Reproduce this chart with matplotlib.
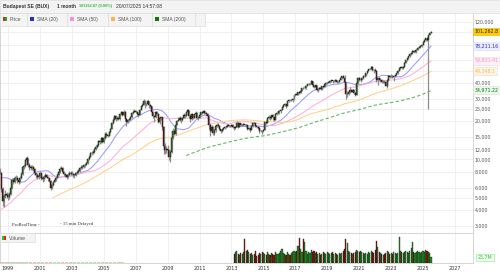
import numpy as np
import pandas as pd
import matplotlib
matplotlib.use("Agg")
import matplotlib.pyplot as plt
from matplotlib.patches import Rectangle

# ---------------- data ----------------
# monthly closes of BUX starting Aug 1993
close = [
    820, 840, 900, 1050, 1200,
    1700, 1900, 1700, 1650, 1700, 1550, 1600, 1680, 1600, 1500, 1450, 1400,
    1350, 1300, 1280, 1350, 1400, 1450, 1500, 1550, 1500, 1480, 1500, 1530,
    1800, 2000, 2100, 2300, 2500, 2400, 2500, 2800, 3000, 3300, 3700, 4200,
    5100, 5400, 5300, 5600, 6100, 6700, 7600, 7700, 8100, 6700, 6900, 7900,
    7800, 8400, 9100, 9300, 8600, 8100, 7900, 5900, 4700, 5200, 5400, 5300,
    5100, 5400, 6000, 6900, 6700, 7200, 7200, 6900, 6700, 7200, 7700, 8800,
    8900, 9900, 10200, 9100, 8800, 8600, 8700, 8400, 7800, 7500, 7300, 7400,
    7800, 7100, 7000, 7300, 7600, 7300, 7100, 6800, 6000, 6300, 6700, 6900,
    7200, 7600, 8000, 8400, 8600, 8000, 7700, 7600, 7300, 7600, 7900, 7900,
    7700, 7500, 7500, 7800, 8000, 8100, 8600, 8700, 8700, 9000, 9100, 9400,
    10000, 10500, 11200, 11300, 11500, 12100, 12500, 12900, 13900, 13700, 14800, 13800,
    14800, 16000, 15500, 15400, 16400, 17500, 19400, 20500, 22000, 20700, 21300, 20800,
    22700, 23500, 22200, 23700, 20700, 19800, 20300, 20900, 21400, 23300, 23800, 24200,
    23500, 22700, 22400, 24600, 26200, 27000, 29000, 27100, 27400, 28800, 26600, 26200,
    23600, 21800, 21400, 23500, 22800, 19600, 21000, 21500, 18100, 12800, 11800, 12200,
    11800, 10400, 11500, 14800, 16800, 16000, 18800, 20200, 20600, 21000, 20300, 21200,
    22300, 22000, 23600, 24400, 21900, 20800, 22600, 21200, 22600, 23400, 21000, 21300,
    22500, 23500, 23000, 23900, 23100, 22700, 21800, 18500, 16700, 17900, 16100, 16900,
    18400, 18600, 18400, 17300, 16800, 17300, 17700, 18000, 18100, 18600, 18300, 18200,
    18600, 18000, 17800, 18000, 19500, 18100, 19300, 18600, 18700, 18900, 18600, 18600,
    17400, 17700, 17000, 18300, 19400, 19300, 18300, 18000, 17800, 16600, 16800, 16600,
    17200, 19600, 19400, 21100, 21500, 21100, 22200, 21400, 20600, 22800, 23200, 23900,
    24000, 24400, 25900, 26800, 27100, 26400, 28600, 29600, 29200, 29600, 29800, 32000,
    32700, 32400, 33700, 33500, 34700, 36500, 36200, 36200, 37900, 39000, 39200, 39400,
    41400, 38300, 37400, 38400, 35200, 35800, 36500, 35600, 37500, 37300, 39500, 40000,
    40200, 40600, 41100, 41800, 41100, 41400, 42300, 40600, 40700, 42000, 43500, 45000,
    44000, 40300, 32800, 33000, 33800, 35000, 34000, 35100, 33100, 32100, 40000, 43800,
    41900, 42200, 43500, 45400, 45700, 47600, 49500, 51100, 51500, 53500, 50800, 50100,
    49500, 42500, 43700, 42300, 42400, 40500, 41000, 40900, 38100, 42000, 45000, 44800,
    44800, 44400, 45000, 45900, 47500, 49700, 52100, 53100, 52600, 53400, 57600, 60500,
    62500, 64500, 68000, 68500, 71500, 70500, 72000, 73000, 75500, 77000, 77500, 79500,
    84500, 86500, 89500, 87500, 95300, 99000, 101263,
]

# monthly highs / lows of the drawn candles, starting Jul 1998
high = [
    8500, 8000, 6100, 5400, 5800, 5600,
    5500, 5600, 6200, 7100, 7200, 7400, 7600, 7400, 7100, 7400, 8000, 8900,
    9300, 10100, 10700, 10300, 9400, 9000, 9000, 8900, 8500, 8000, 7800, 7600,
    8100, 7900, 7300, 7500, 7900, 7700, 7400, 7200, 6900, 6500, 6800, 7100,
    7400, 7800, 8200, 8700, 8900, 8700, 8100, 7900, 7700, 7800, 8100, 8100,
    8100, 7900, 7700, 8000, 8200, 8400, 8800, 9000, 9000, 9300, 9400, 9600,
    10300, 10800, 11500, 11700, 11900, 12400, 12900, 13200, 14200, 14300, 15100, 15000,
    15200, 16500, 16400, 16000, 16700, 17800, 19700, 21000, 22500, 22200, 21800, 21700,
    23200, 24100, 23800, 24300, 24000, 21000, 20900, 21300, 21900, 23600, 24300, 24800,
    24700, 24000, 23100, 25000, 26500, 27600, 30100, 29300, 28000, 29500, 29000, 27300,
    26300, 24200, 22400, 23900, 24000, 23000, 21400, 22100, 21700, 18300, 13600, 12800,
    13000, 12100, 11900, 15100, 17600, 17400, 19000, 20600, 21500, 21800, 21400, 21600,
    23300, 22800, 24000, 24900, 24600, 22800, 23000, 22800, 22900, 23900, 23600, 21800,
    23000, 23800, 24000, 24300, 24100, 23500, 23000, 22000, 19200, 18600, 18400, 17300,
    18700, 19300, 19200, 18600, 17500, 17500, 17900, 18300, 18500, 18800, 18800, 18600,
    19100, 18900, 18200, 18300, 20000, 19700, 19500, 19500, 19100, 19400, 19000, 18900,
    18700, 18000, 17800, 18500, 19600, 19800, 19500, 18400, 18300, 17900, 17200, 17100,
    17500, 19800, 20300, 21500, 22300, 22000, 22500, 22600, 21700, 23000, 23600, 24200,
    24500, 24800, 26100, 27100, 27600, 27500, 28800, 29900, 30000, 30100, 30200, 32200,
    33000, 33300, 34000, 34300, 35300, 36700, 36800, 36700, 38200, 39400, 39800, 40000,
    41800, 41500, 38700, 38800, 38600, 36300, 37000, 36900, 37800, 38100, 39700, 40500,
    41000, 41200, 41800, 42300, 42400, 41900, 42800, 42500, 41600, 42300, 43900, 45400,
    46300, 45800, 41000, 34400, 34800, 36900, 35800, 35800, 35600, 34100, 40600, 44300,
    44900, 43100, 44300, 45800, 46500, 48200, 49800, 51800, 52400, 54300, 54000, 51500,
    52400, 50500, 44800, 44300, 43600, 43000, 41900, 42300, 41500, 42800, 46000, 46000,
    46800, 46100, 45600, 46600, 48100, 50200, 52500, 53700, 53900, 54200, 58000, 61000,
    63300, 65200, 68600, 69800, 72300, 72500, 72800, 73800, 76200, 78100, 79200, 80500,
    85000, 88500, 90500, 91000, 96000, 99700, 101800,
]
low = [
    7700, 5600, 4300, 4200, 5000, 5000,
    4800, 4900, 5300, 5900, 6400, 6500, 6900, 6500, 6400, 6500, 7000, 7600,
    8400, 8700, 9500, 8700, 8300, 8200, 8300, 8100, 7500, 7100, 7000, 7000,
    7200, 6900, 6700, 6800, 7200, 7100, 6800, 6600, 5800, 5900, 6200, 6600,
    6800, 7100, 7500, 7900, 8200, 7800, 7400, 7300, 7000, 7100, 7500, 7600,
    7500, 7300, 7100, 7400, 7700, 7900, 8000, 8400, 8400, 8600, 8800, 9000,
    9300, 9900, 10400, 10900, 11000, 11300, 11900, 12300, 12800, 13300, 13500, 13600,
    13600, 14600, 15000, 14900, 15200, 16200, 17300, 19100, 20300, 20000, 20400, 20400,
    20600, 22300, 21800, 22000, 20000, 18200, 19300, 20000, 20500, 21200, 22900, 23500,
    23000, 22000, 21600, 22200, 24300, 25800, 26800, 25200, 26500, 27200, 25600, 25500,
    22300, 21200, 19600, 21200, 22400, 19300, 18900, 20600, 17200, 11000, 11000, 11200,
    11300, 9900, 9500, 11300, 14500, 15500, 15700, 18500, 19900, 20100, 19400, 20000,
    21000, 21100, 21800, 23300, 21000, 19600, 20600, 20800, 21000, 22300, 20700, 20500,
    21000, 22200, 22600, 22800, 22700, 22000, 21300, 17500, 15300, 16300, 15600, 15700,
    16500, 18100, 18100, 17000, 16200, 16500, 17000, 17500, 17700, 17900, 17900, 17900,
    18000, 17700, 17200, 17400, 17900, 17600, 18000, 18300, 18400, 18500, 18300, 18100,
    17200, 17100, 16500, 16900, 18100, 19000, 17900, 17600, 17500, 16200, 16400, 15900,
    16300, 17000, 19000, 19300, 20900, 20500, 20700, 20300, 20100, 20500, 22500, 22800,
    22800, 23100, 24300, 25700, 26400, 25300, 26200, 28400, 28700, 28900, 28500, 29500,
    31500, 31900, 32100, 32900, 33300, 34500, 35600, 35500, 36000, 37600, 38200, 38500,
    39200, 36800, 36600, 37100, 34500, 34200, 35400, 35000, 35400, 36200, 37000, 38800,
    38900, 39700, 40100, 40800, 40000, 40500, 41000, 39900, 40200, 40300, 41800, 43200,
    43600, 39500, 29900, 31000, 32300, 33500, 33800, 33800, 32900, 31800, 31900, 39500,
    41300, 41000, 41800, 43200, 44800, 45400, 46700, 49200, 50200, 51000, 49800, 48100,
    48800, 41000, 38300, 41800, 41000, 39800, 39600, 40200, 37500, 36200, 41400, 43600,
    44300, 43700, 41500, 44400, 45400, 47200, 49300, 51500, 51600, 51800, 53000, 57200,
    59800, 61800, 64000, 66700, 68000, 69300, 69600, 68800, 72600, 74800, 75600, 76900,
    78900, 83800, 85700, 85000, 25000, 94400, 98600,
]

# monthly volume (millions), starting Jul 1998; None = no data
vol_early = [  # Jul 1998 - Apr 2006
    2, 2, 2, 2, 2, 2,
    2, 2, 2, 2, 2, 2, 2, 2, 2, 2, 2, 2,
    2, 2, 2, 2, 2, 2, 2, 2, 2, 2, 2, 2,
    2, 2, 2, 2, 2, 2, 2, 2, 2, 2, 2, 2,
    2, 2, 2, 2, 2, 2, 2, 2, 2, 2, 2, 2,
    2, 2, 2, 2, 2, 2, 2, 2, 2, 2, 2, 2,
    2, 2, 2, 2, 2, 2, 2, 2, 2, 2, 2, 2,
    2, 2, 2, 2, 2, 2, 2, 2, 2, 2, 2, 2,
    2, 2, 2, 2,
]
vol_late = [  # Mar 2013 - Jul 2025
    45, 55, 60, 45, 40, 50, 45, 55, 120, 60,
    65, 55, 45, 50, 40, 45, 60, 35, 40, 50, 45, 55,
    50, 45, 40, 55, 45, 40, 50, 45, 40, 55, 45, 45,
    50, 60, 70, 50, 45, 40, 55, 45, 40, 50, 55, 60,
    55, 60, 85, 125, 70, 55, 118, 105, 60, 45, 55, 50,
    65, 55, 60, 50, 55, 45, 50, 40, 45, 55, 50, 45,
    55, 50, 45, 50, 55, 45, 50, 45, 40, 50, 45, 50,
    60, 70, 120, 100, 60, 55, 50, 45, 50, 55, 65, 60,
    55, 60, 55, 50, 45, 50, 45, 55, 50, 60, 55, 50,
    65, 110, 80, 55, 50, 45, 40, 45, 50, 60, 55, 45,
    50, 45, 55, 50, 45, 50, 130, 60, 55, 50, 55, 60,
    55, 50, 60, 75, 105, 55, 50, 55, 60, 55, 50, 55,
    60, 55, 65, 60, 55, 50, 25.7,
]

sma_periods = [20, 50, 100, 200]
sma_names = ["SMA (20)", "SMA (50)", "SMA (100)", "SMA (200)"]
sma_colors = ["#2b2bd6", "#ff8fc8", "#ffb347", "#0a7a0a"]
sma_line_colors = ["#9a9aff", "#ffb0d2", "#ffd08a", "#5fb95f"]
sma_last_labels = ["78,211.16", "59,831.41", "49,348.1", "34,971.22"]
sma_last_values = [78211.16, 59831.41, 49348.1, 34971.22]
last_label = "101,262.8"
last_value = 101262.87
vol_last_label = "25.7M"

ytick_vals = [3000, 4000, 5000, 6000, 8000, 10000, 12000, 15000, 20000,
              25000, 30000, 40000, 50000, 60000, 80000, 100000, 120000]
ytick_hidden = [50000, 60000, 80000, 100000]
xtick_years = list(range(1999, 2028, 2))

# ---------------- derived ----------------
n = len(close)
t_all = 1993 + (7 + np.arange(n)) / 12.0
c_all = np.array(close, float)
k0 = n - len(high)
t_c = t_all[k0:]
o = c_all[k0 - 1:n - 1]
cc = c_all[k0:]
hi = np.array(high, float)
lo = np.array(low, float)
up = cc >= o

W, H = 500, 273
fig = plt.figure(figsize=(W / 100, H / 100), dpi=100)
fig.patch.set_facecolor("white")


def fx(x):
    return x / W


def fy(y):
    return 1 - y / H


ax = fig.add_axes([0, fy(233), fx(473), 220 / H])
axv = fig.add_axes([0, fy(262.5), fx(473), 29.5 / H], sharex=ax)

GREEN = "#1f8f1f"
RED = "#8e1212"

# candles
ax.vlines(t_c, lo, hi, colors="#8d8d8d", lw=0.9, zorder=3)
ax.bar(t_c, np.abs(cc - o), bottom=np.minimum(cc, o), width=0.062,
       color=[GREEN if u else RED for u in up], edgecolor="#111111",
       linewidth=0.3, zorder=4)

# SMAs
for p, col in zip(sma_periods, sma_line_colors):
    s = pd.Series(c_all).rolling(p).mean().values
    if p == 200:
        ax.plot(t_all, s, color=col, lw=0.8, dashes=(3, 2), zorder=2)
    else:
        ax.plot(t_all, s, color=col, lw=0.75, zorder=2)

ax.set_yscale("log")
ax.set_ylim(2644, 141700)
ax.set_xlim(1998.5, 2028.13)
ax.set_yticks(ytick_vals)
ax.set_yticklabels(["" if v in ytick_hidden else f"{v:,}" for v in ytick_vals])
ax.yaxis.set_minor_locator(matplotlib.ticker.NullLocator())
ax.yaxis.tick_right()
ax.tick_params(axis="y", length=0, pad=1.2, labelsize=3.4, labelcolor="#555555")
ax.set_xticks(xtick_years)
ax.tick_params(axis="x", length=0, labelbottom=False)
ax.grid(True, color="#eeeeee", lw=0.6, zorder=0)
ax.set_axisbelow(True)
for sname, sp in ax.spines.items():
    sp.set_color("#cfcfcf")
    sp.set_linewidth(0.6)
ax.spines["top"].set_visible(False)

# right-side value labels
box_fc = ["#ececff", "#ffeef6", "#fff5e6", "#eaf7ea"]
yt = ax.get_yaxis_transform()
ax.text(1.003, last_value, last_label, transform=yt, ha="left", va="center",
        fontsize=3.4, color="#222222", clip_on=False, zorder=10,
        bbox=dict(boxstyle="square,pad=0.3", fc="#ffcc00", ec="#e6b800", lw=0.4))
for lab, val, tc, fc in zip(sma_last_labels, sma_last_values, sma_colors, box_fc):
    ax.text(1.003, val, lab, transform=yt, ha="left", va="center",
            fontsize=3.4, color=tc, clip_on=False, zorder=10,
            bbox=dict(boxstyle="square,pad=0.3", fc=fc, ec="#dddddd", lw=0.4))

# volume
t_v = t_c
vol = vol_early + [None] * (len(t_v) - len(vol_early) - len(vol_late)) + vol_late
for tv, v, u in zip(t_v, vol, up):
    if v is None:
        continue
    if v < 5:
        axv.bar(tv, v, width=0.07, color="#ffb0b0" if not u else "#a8e8a8",
                linewidth=0, zorder=3)
    else:
        axv.bar(tv, v, width=0.07, color=GREEN if u else RED,
                edgecolor="#1a1a1a", linewidth=0.25, zorder=3)
axv.set_ylim(0, 150)
axv.set_yticks([])
axv.set_xticks(xtick_years)
axv.set_xticklabels([str(y) for y in xtick_years])
axv.tick_params(axis="x", length=0, pad=2.2, labelsize=3.5, labelcolor="#333333")
axv.grid(True, axis="x", color="#eeeeee", lw=0.6, zorder=0)
axv.set_axisbelow(True)
for sname, sp in axv.spines.items():
    sp.set_color("#cfcfcf")
    sp.set_linewidth(0.6)
axv.text(1.01, 25.7, vol_last_label, transform=axv.get_yaxis_transform(),
         ha="left", va="center", fontsize=3.4, color="#22cc22", clip_on=False,
         zorder=10, bbox=dict(boxstyle="square,pad=0.3", fc="#f0fff0", ec="#99dd99", lw=0.4))

# header bar
fig.add_artist(Rectangle((0, fy(12.5)), 1, 12.5 / H, transform=fig.transFigure,
                         facecolor="#f3f3f3", edgecolor="#dcdcdc", lw=0.5, zorder=5))
hdr = dict(va="center", ha="left", family="Liberation Sans", zorder=6)
fig.text(fx(3), fy(6.3), "Budapest SE (BUX)", color="#333333", weight="bold",
         fontsize=3.6, **hdr)
fig.text(fx(57), fy(6.3), "1 month", color="#333333", weight="bold",
         fontsize=3.4, **hdr)
fig.text(fx(79), fy(6.3), "101262.87 (0.80%)", color="#33bb33", weight="bold",
         fontsize=2.8, **hdr)
fig.text(fx(115.5), fy(6.3), "20/07/2025 14:57:08", color="#333333",
         fontsize=3.6, **hdr)

# legend row
cells = [(0, 27, "Price"), (27, 67, sma_names[0]), (67, 108, sma_names[1]),
         (108, 152, sma_names[2]), (152, 195, sma_names[3]), (195, 205, "")]
for i, (x0, x1, lab) in enumerate(cells):
    fig.add_artist(Rectangle((fx(x0), fy(25.5)), fx(x1 - x0), 12.5 / H,
                             transform=fig.transFigure, facecolor="#f4f4f4",
                             edgecolor="#dddddd", lw=0.5, zorder=5))
    if not lab:
        continue
    if i == 0:
        fig.add_artist(Rectangle((fx(3), fy(21.5)), fx(2), 4 / H, transform=fig.transFigure,
                                 facecolor="#dd2222", lw=0, zorder=6))
        fig.add_artist(Rectangle((fx(5), fy(21.5)), fx(2), 4 / H, transform=fig.transFigure,
                                 facecolor="#22aa22", lw=0, zorder=6))
    else:
        fig.add_artist(Rectangle((fx(x0 + 3), fy(21.5)), fx(4), 4 / H, transform=fig.transFigure,
                                 facecolor=sma_colors[i - 1], lw=0, zorder=6))
    fig.text(fx(x0 + 10), fy(19.3), lab, fontsize=3.6, color="#555555", va="center",
             ha="left", family="Liberation Sans", zorder=7)

# volume legend
fig.add_artist(Rectangle((0, fy(242)), fx(35), 9 / H, transform=fig.transFigure,
                         facecolor="#f4f4f4", edgecolor="#dddddd", lw=0.5, zorder=5))
fig.add_artist(Rectangle((fx(2), fy(240)), fx(2), 4 / H, transform=fig.transFigure,
                         facecolor="#22cc22", lw=0, zorder=6))
fig.add_artist(Rectangle((fx(4), fy(240)), fx(2), 4 / H, transform=fig.transFigure,
                         facecolor="#dd2222", lw=0, zorder=6))
fig.text(fx(9), fy(238), "Volume", fontsize=3.6, color="#555555", va="center",
         ha="left", family="Liberation Sans", zorder=7)

# delayed note
fig.text(fx(12), fy(224.5), "ProRealTime -", fontsize=3.4, color="#333333",
         va="center", ha="left", family="Liberation Serif", zorder=7)
fig.text(fx(60), fy(224.5), "- 15 min Delayed", fontsize=3.4, color="#333333",
         va="center", ha="left", family="Liberation Serif", zorder=7)

fig.savefig("out.png", dpi=100, facecolor="white")
